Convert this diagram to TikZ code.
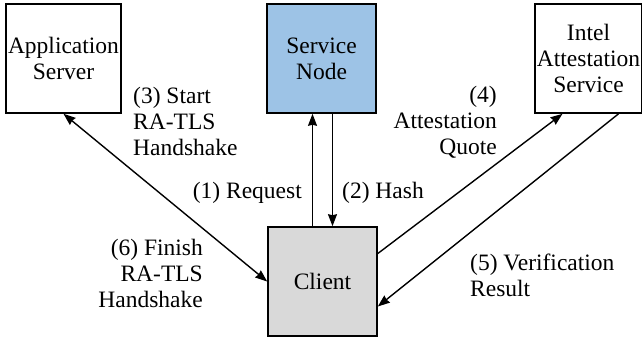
\documentclass[tikz,border=0pt]{standalone}
\usepackage{fontspec}
\setmainfont{Liberation Serif}[Ligatures=TeX]
\usetikzlibrary{arrows.meta,positioning,calc}
\definecolor{nodeblue}{RGB}{157,195,230}
\definecolor{clientgrey}{RGB}{217,217,217}

\begin{document}
\begin{tikzpicture}[x=1pt,y=-1pt,
        every node/.style={font=\rmfamily\upshape\fontsize{23.5}{26}\selectfont},
        box/.style={draw=black,line width=1.6pt,minimum width=109pt,
                    minimum height=109pt,align=center,inner sep=2pt},
        lbl/.style={inner sep=0pt},
        arrow/.style={-{Stealth[length=12pt,width=9pt,inset=1pt]},line width=1.4pt},
        dblarrow/.style={{Stealth[length=12pt,width=9pt,inset=1pt]}-{Stealth[length=12pt,width=9pt,inset=1pt]},line width=1.4pt}
    ]
        \useasboundingbox (0,0) rectangle (642,338);
        % Nodes
        \node[box] (app) at (63.5,58.5) {Application\\Server};
        \node[box,fill=nodeblue] (svc) at (321.5,58.5) {Service\\Node};
        \node[box,minimum width=104pt] (ias) at (588.5,58.5) {Intel\\Attestation\\Service};
        \node[box,fill=clientgrey] (client) at (322.5,281.5) {Client};

        % Labels
        \node[lbl,anchor=west,align=left] (startlbl) at (133,121) {(3) Start\\RA-TLS\\Handshake};
        \node[lbl,anchor=east] (reqlbl) at (302,193) {(1) Request};
        \node[lbl,anchor=west] (hashlbl) at (342,193) {(2) Hash};
        \node[lbl,anchor=east,align=right] (quotelbl) at (497,122) {(4)\\Attestation\\Quote};
        \node[lbl,anchor=east,align=right] (finishlbl) at (203,273) {(6) Finish\\RA-TLS\\Handshake};
        \node[lbl,anchor=west,align=left] (resultlbl) at (470,275) {(5) Verification\\Result};

        % Arrows
        \draw[arrow] ([xshift=-10pt]client.north) -- ([xshift=-10pt]client.north |- svc.south);
        \draw[arrow] ([xshift=11pt]svc.south) -- ([xshift=11pt]svc.south |- client.north);
        \draw[dblarrow] (app.south) -- (client.west);
        \draw[arrow] ([yshift=28pt]client.east) -- ([xshift=-26pt]ias.south);
        \draw[arrow] ([xshift=30pt]ias.south) -- ([yshift=-25pt]client.east);
    \end{tikzpicture}
\end{document}
